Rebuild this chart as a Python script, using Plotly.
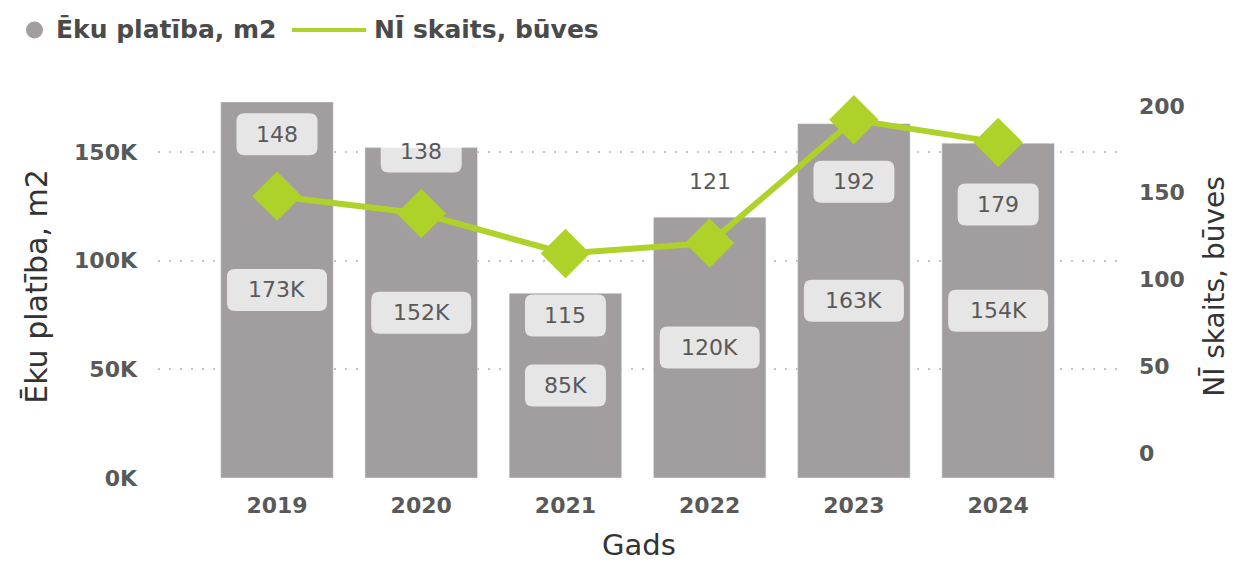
import plotly.graph_objects as go

years = ["2019", "2020", "2021", "2022", "2023", "2024"]
area_m2 = [173000, 152000, 85000, 120000, 163000, 154000]
area_labels = ["173K", "152K", "85K", "120K", "163K", "154K"]
count_buves = [148, 138, 115, 121, 192, 179]
left_ticks = [0, 50000, 100000, 150000]
left_tick_text = ["0K", "50K", "100K", "150K"]
right_ticks = [0, 50, 100, 150, 200]
label_side = [1, 1, -1, 1, -1, -1]  # 1 = above marker, -1 = below

BAR = "#a29d9e"
GREEN = "#aed22a"
TXT = "#595959"
DARK = "#333333"
FONT = "DejaVu Sans"
BOXBG = "rgba(255,255,255,0.74)"

W, H = 1234, 555
ML, MR, MT, MB = 150, 122, 87, 85
PW, PH = W - ML - MR, H - MT - MB


def px(x):
    return (x - ML) / PW


def py(y):
    return (H - MB - y) / PH


def rrect(w, h, r, dy):
    x0, x1 = -w / 2, w / 2
    y0, y1 = dy - h / 2, dy + h / 2
    return (f"M {x0 + r},{y0} L {x1 - r},{y0} Q {x1},{y0} {x1},{y0 + r} "
            f"L {x1},{y1 - r} Q {x1},{y1} {x1 - r},{y1} L {x0 + r},{y1} "
            f"Q {x0},{y1} {x0},{y1 - r} L {x0},{y0 + r} Q {x0},{y0} {x0 + r},{y0} Z")


fig = go.Figure()
fig.add_trace(go.Bar(x=years, y=area_m2, marker_color=BAR, width=0.78,
                     showlegend=False, yaxis="y"))
fig.add_trace(go.Scatter(x=years, y=count_buves, yaxis="y2", mode="lines+markers",
                         line=dict(color=GREEN, width=6),
                         marker=dict(symbol="diamond", size=38, color=GREEN),
                         showlegend=False))

shapes = []
ann = []
# category axis positions are addressed by index
for i, (v, t) in enumerate(zip(area_m2, area_labels)):
    bw = 24 + 19 * len(t)
    shapes.append(dict(type="path", xref="x", yref="y", xsizemode="pixel", ysizemode="pixel",
                       xanchor=i, yanchor=v / 2, path=rrect(bw, 42, 8, 0),
                       fillcolor=BOXBG, line=dict(width=0), layer="above"))
    ann.append(dict(x=i, y=v / 2, xref="x", yref="y", text=t, showarrow=False,
                    font=dict(family=FONT, size=22, color=TXT)))
for i, (v, s) in enumerate(zip(count_buves, label_side)):
    t = str(v)
    bw = 24 + 19 * len(t)
    shapes.append(dict(type="path", xref="x", yref="y2", xsizemode="pixel", ysizemode="pixel",
                       xanchor=i, yanchor=v, path=rrect(bw, 42, 8, 62 * s),
                       fillcolor=BOXBG, line=dict(width=0), layer="above"))
    ann.append(dict(x=i, y=v, xref="x", yref="y2", text=t, showarrow=False,
                    yshift=62 * s,
                    font=dict(family=FONT, size=22, color=TXT)))

# custom legend (top-left)
ly = 22
shapes.append(dict(type="circle", xref="paper", yref="paper",
                   x0=px(18), x1=px(35), y0=py(ly + 8.5), y1=py(ly - 8.5),
                   fillcolor=BAR, line=dict(width=0)))
ann.append(dict(x=px(46), y=py(ly), xref="paper", yref="paper", xanchor="left",
                yanchor="middle", text="<b>Ēku platība, m2</b>", showarrow=False,
                font=dict(family=FONT, size=25, color="#4a4a4a")))
shapes.append(dict(type="line", xref="paper", yref="paper",
                   x0=px(284), x1=px(358), y0=py(ly), y1=py(ly),
                   line=dict(color=GREEN, width=4)))
ann.append(dict(x=px(364), y=py(ly), xref="paper", yref="paper", xanchor="left",
                yanchor="middle", text="<b>NĪ skaits, būves</b>", showarrow=False,
                font=dict(family=FONT, size=25, color="#4a4a4a")))

fig.update_layout(
    width=W, height=H,
    margin=dict(l=ML, r=MR, t=MT, b=MB, autoexpand=False),
    paper_bgcolor="white", plot_bgcolor="white",
    font=dict(family=FONT, color=TXT),
    showlegend=False,
    xaxis=dict(type="category", range=[-0.825, 5.845], showgrid=False, zeroline=False,
               showline=False, ticks="",
               tickfont=dict(family=FONT, size=22, color=TXT, weight="bold"),
               ticklabelstandoff=12,
               title=dict(text="Gads", font=dict(family=FONT, size=29, color=DARK),
                          standoff=17)),
    yaxis=dict(range=[0, 176200], tickvals=left_ticks, ticktext=left_tick_text,
               showgrid=True, gridcolor="#c4c4c4", griddash="2px,9px", gridwidth=1.5,
               zeroline=False, showline=False, ticks="",
               tickfont=dict(family=FONT, size=22, color=TXT, weight="bold"),
               ticklabelstandoff=20,
               title=dict(text="Ēku platība, m2", font=dict(family=FONT, size=30, color=DARK),
                          standoff=17)),
    yaxis2=dict(range=[-14.4, 206.3], tickvals=right_ticks, overlaying="y", side="right",
                showgrid=False, zeroline=False, showline=False, ticks="",
                tickfont=dict(family=FONT, size=22, color=TXT, weight="bold"),
                ticklabelstandoff=18,
                title=dict(text="NĪ skaits, būves", font=dict(family=FONT, size=28, color=DARK),
                           standoff=20)),
    shapes=shapes,
    annotations=ann,
)

fig.write_html("out.html")
